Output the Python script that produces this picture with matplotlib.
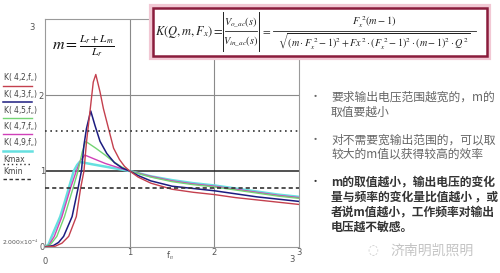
import matplotlib
matplotlib.use("Agg")
import matplotlib.pyplot as plt
from matplotlib.lines import Line2D
from matplotlib.patches import Rectangle

plt.rcParams['font.family'] = ['DejaVu Sans']
plt.rcParams['mathtext.fontset'] = 'stix'

# ---------------- data ----------------
x_m2 = [0, 0.12, 0.20, 0.28, 0.37, 0.42, 0.46, 0.49, 0.54, 0.57, 0.60, 0.65, 0.69, 0.75, 0.81, 0.88, 0.94, 1.0,
        1.1, 1.25, 1.5, 1.75, 2.0, 2.25, 2.5, 2.75, 3.0]
y_m2 = [0, 0.01, 0.05, 0.14, 0.40, 0.77, 1.00, 1.38, 1.87, 2.17, 2.27, 2.04, 1.82, 1.56, 1.30, 1.15, 1.06, 1.0,
        0.92, 0.84, 0.76, 0.72, 0.69, 0.65, 0.62, 0.59, 0.56]

x_m3 = [0, 0.10, 0.16, 0.22, 0.32, 0.39, 0.43, 0.46, 0.49, 0.54, 0.59, 0.65, 0.73, 0.82, 0.91, 1.0,
        1.1, 1.25, 1.5, 1.75, 2.0, 2.25, 2.5, 2.75, 3.0]
y_m3 = [0, 0.02, 0.06, 0.14, 0.40, 0.77, 1.00, 1.34, 1.56, 1.79, 1.60, 1.39, 1.23, 1.11, 1.04, 1.0,
        0.94, 0.87, 0.80, 0.77, 0.74, 0.70, 0.66, 0.63, 0.60]

x_m5 = [0, 0.07, 0.14, 0.23, 0.33, 0.39, 0.44, 0.48, 0.60, 0.71, 0.80, 0.91, 1.0,
        1.25, 1.5, 1.75, 2.0, 2.25, 2.5, 2.75, 3.0]
y_m5 = [0, 0.04, 0.14, 0.40, 0.77, 1.00, 1.25, 1.39, 1.30, 1.21, 1.13, 1.05, 1.0,
        0.92, 0.86, 0.82, 0.79, 0.75, 0.71, 0.67, 0.64]

x_m7 = [0, 0.05, 0.11, 0.20, 0.30, 0.37, 0.42, 0.47, 0.60, 0.71, 0.85, 1.0,
        1.25, 1.5, 1.75, 2.0, 2.25, 2.5, 2.75, 3.0]
y_m7 = [0, 0.03, 0.14, 0.40, 0.77, 1.00, 1.14, 1.21, 1.15, 1.10, 1.05, 1.0,
        0.93, 0.87, 0.83, 0.80, 0.76, 0.72, 0.68, 0.65]

x_m9 = [0, 0.04, 0.08, 0.13, 0.18, 0.23, 0.28, 0.34, 0.38, 0.41, 0.55, 0.70, 0.85, 1.0,
        1.25, 1.5, 1.75, 2.0, 2.25, 2.5, 2.75, 3.0]
y_m9 = [0, 0.03, 0.14, 0.27, 0.40, 0.58, 0.77, 1.00, 1.08, 1.12, 1.09, 1.06, 1.03, 1.0,
        0.93, 0.88, 0.84, 0.81, 0.77, 0.73, 0.69, 0.66]

k_max = 1.52
k_min = 0.77

legend_labels = [r'K( 4,2,f$_n$)', r'K( 4,3,f$_n$)', r'K( 4,5,f$_n$)', r'K( 4,7,f$_n$)', r'K( 4,9,f$_n$)', 'Kmax', 'Kmin']
x_ticks = [1, 2, 3]

bullets = [
    (["要求输出电压范围越宽的，m的", "取值要越小"], False),
    (["对不需要宽输出范围的，可以取", "较大的m值以获得较高的效率"], False),
    (["m的取值越小，输出电压的变化", "量与频率的变化量比值越小 ，或", "者说m值越小，工作频率对输出", "电压越不敏感。"], True),
]
watermark = "济南明凯照明"

# ---------------- figure ----------------
W, H = 500, 273
fig = plt.figure(figsize=(5.0, 2.73), dpi=100)
fig.patch.set_facecolor('white')

def fx(px):
    return px / W

def fy(py):
    return 1 - py / H

L, R, T, B = 45, 299, 19, 247
ax = fig.add_axes([fx(L), fy(B), (R - L) / W, (B - T) / H])
ax.set_xlim(0, 3)
ax.set_ylim(0, 3)
ax.set_xticks([])
ax.set_yticks([])
for s in ax.spines.values():
    s.set_color('#9a9a9a')
    s.set_linewidth(0.8)

# grid
for xv in [1, 2]:
    ax.axvline(xv, color='#8a8a8a', lw=0.8, zorder=1)
ax.axhline(2, color='#8a8a8a', lw=0.8, zorder=1)
ax.axhline(1, color='#222222', lw=1.1, zorder=1)

colors = ['#c4404e', '#1c1c80', '#74d474', '#d040b8', '#66e0e0']
lws = [1.0, 1.1, 1.0, 1.0, 1.8]
series = [(x_m2, y_m2), (x_m3, y_m3), (x_m5, y_m5), (x_m7, y_m7), (x_m9, y_m9)]
for i in [4, 3, 2, 1, 0]:
    xs, ys = series[i]
    ax.plot(xs, ys, color=colors[i], lw=lws[i], zorder=3)

ax.axhline(k_max, color='#333333', lw=1.2, ls=(0, (1, 2.2)), zorder=4)
ax.axhline(k_min, color='#333333', lw=1.2, ls=(0, (2.5, 1.8)), zorder=4)

# tick labels
tick_kw = dict(fontsize=6, color='#555555')
fig.text(fx(32), fy(28), '3', ha='center', va='center', **tick_kw)
fig.text(fx(41), fy(96), '2', ha='center', va='center', **tick_kw)
fig.text(fx(43), fy(171), '1', ha='center', va='center', **tick_kw)
fig.text(fx(42), fy(248), '0', ha='center', va='center', **tick_kw)
fig.text(fx(2), fy(242), r'2.000$\times$10$^{-4}$', ha='left', va='center', fontsize=4.4, color='#555555')
for xv in x_ticks:
    fig.text(fx(L + xv * (R - L) / 3), fy(252.5), str(xv), ha='center', va='center', **tick_kw)
fig.text(fx(45), fy(261), '0', ha='center', va='center', **tick_kw)
fig.text(fx(292), fy(260), '3', ha='center', va='center', **tick_kw)
fig.text(fx(170), fy(256), r'f$_n$', ha='center', va='center', **tick_kw)

# legend
leg_text_y = [78, 95, 111, 127, 143, 159, 172]
leg_line_y = [86, 102, 118, 134, 151, 164, 179]
leg_styles = [dict(color=colors[i], lw=lws[i]) for i in range(5)] + [
    dict(color='#333333', lw=1.0, ls=(0, (1, 2))),
    dict(color='#333333', lw=1.0, ls=(0, (2.5, 1.8)))]
for lab, ty, ly, st in zip(legend_labels, leg_text_y, leg_line_y, leg_styles):
    fig.text(fx(3), fy(ty), lab, ha='left', va='center', fontsize=5.5, color='#444444')
    fig.add_artist(Line2D([fx(3), fx(32)], [fy(ly), fy(ly)], transform=fig.transFigure, **st))

# m formula
fig.text(fx(52), fy(46), r'$m=\frac{L_r+L_m}{L_r}$', ha='left', va='center', fontsize=11.5, color='#111111')

# K formula box
fig.add_artist(Rectangle((fx(151), fy(58)), (489 - 151) / W, (58 - 6) / H, transform=fig.transFigure,
                         facecolor='white', edgecolor='#f2c8d4', lw=3.0, zorder=5))
fig.add_artist(Rectangle((fx(153), fy(56)), (487 - 153) / W, (56 - 8) / H, transform=fig.transFigure,
                         facecolor='white', edgecolor='#8a1c3c', lw=1.8, zorder=6))
fkw = dict(color='#222222', zorder=7, va='center')
fig.text(fx(155), fy(32), r'$K(Q,m,F_x)=$', ha='left', fontsize=9, **fkw)
# |V_o / V_in|
fig.add_artist(Line2D([fx(223), fx(223)], [fy(12), fy(51)], transform=fig.transFigure, color='#222222', lw=0.7, zorder=7))
fig.add_artist(Line2D([fx(259), fx(259)], [fy(12), fy(51)], transform=fig.transFigure, color='#222222', lw=0.7, zorder=7))
fig.add_artist(Line2D([fx(225), fx(257)], [fy(31), fy(31)], transform=fig.transFigure, color='#222222', lw=0.6, zorder=7))
fig.text(fx(241), fy(22), r'$V_{o\_ac}(s)$', ha='center', fontsize=7.5, **fkw)
fig.text(fx(241), fy(41), r'$V_{in\_ac}(s)$', ha='center', fontsize=7.5, **fkw)
fig.text(fx(266), fy(31), r'$=$', ha='center', fontsize=8, **fkw)
# big fraction
fig.add_artist(Line2D([fx(273), fx(476)], [fy(31), fy(31)], transform=fig.transFigure, color='#222222', lw=0.6, zorder=7))
fig.text(fx(374), fy(22), r'$F_x^{\ 2}(m-1)$', ha='center', fontsize=7.5, **fkw)
fig.text(fx(374), fy(42),
         r'$\sqrt{(m\cdot F_x^{\ 2}-1)^2+Fx^2\cdot(F_x^{\ 2}-1)^2\cdot(m-1)^2\cdot Q^2}$',
         ha='center', fontsize=7.3, **fkw)

# bullets
cjk = ['Noto Sans CJK SC', 'DejaVu Sans']
para_y = [97, 140, 182]
line_gap = [15, 14, 15]
for (lines, bold), y0, gap in zip(bullets, para_y, line_gap):
    col = '#333333' if bold else '#666666'
    fig.text(fx(315), fy(y0), '•', ha='center', va='center', fontsize=8, color=col, family=cjk)
    for k, t in enumerate(lines):
        fig.text(fx(331), fy(y0 + k * gap), t, ha='left', va='center', fontsize=8.5,
                 color=col, family=cjk, fontweight='bold' if bold else 'normal')

fig.text(fx(373), fy(251), '◌', ha='center', va='center', fontsize=9, color='#c8c8c8', family=['DejaVu Sans'])
fig.text(fx(390), fy(251), watermark, ha='left', va='center', fontsize=10, color='#c4c4c4', family=cjk)

fig.savefig('out.png', dpi=100, facecolor='white')
